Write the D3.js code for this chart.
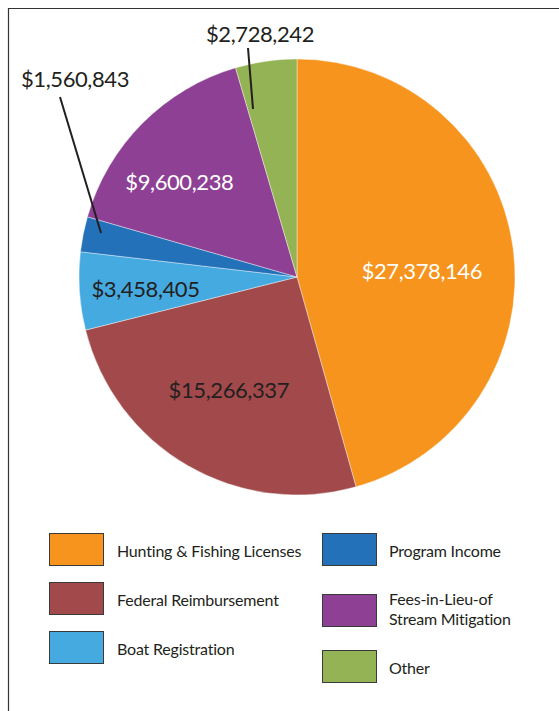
<!DOCTYPE html>
<html>
<head>
<meta charset="utf-8">
<script src="https://cdn.jsdelivr.net/npm/d3@7"></script>
<style>
  body { margin: 0; background: #fff; }
  svg { display: block; font-family: Lato, "Open Sans", sans-serif; }
</style>
</head>
<body>
<div id="chart"></div>
<script>
"use strict";

// revenue sources, clockwise from 12 o'clock
var categories = ["Hunting & Fishing Licenses", "Federal Reimbursement", "Boat Registration",
                  "Program Income", "Fees-in-Lieu-of Stream Mitigation", "Other"];
var amounts = [27378146, 15266337, 3458405, 1560843, 9600238, 2728242];
var sliceColors = ["#f7941e", "#a24a4b", "#45aae0", "#2371b9", "#8e4194", "#94b354"];

// legend layout: column, text lines
var legendCols = [0, 0, 0, 1, 1, 1];
var legendLines = [["Hunting & Fishing Licenses"], ["Federal Reimbursement"], ["Boat Registration"],
                   ["Program Income"], ["Fees-in-Lieu-of", "Stream Mitigation"], ["Other"]];

var width = 559,
    height = 711,
    cx = 297, cy = 277,
    radius = 218,
    ink = "#231f20";

var svg = d3.select("#chart").append("svg")
    .attr("width", width)
    .attr("height", height);

// frame (open on right and bottom)
svg.append("path")
    .attr("d", "M8.5," + height + "V8.5H" + width)
    .attr("fill", "none")
    .attr("stroke", "#333")
    .attr("stroke-width", 1.2);

var data = categories.map(function(c, i) { return { name: c, value: amounts[i], color: sliceColors[i] }; });

var pie = d3.pie().sort(null).value(function(d) { return d.value; });
var arcs = pie(data);

var arc = d3.arc().innerRadius(0).outerRadius(radius);

var g = svg.append("g").attr("transform", "translate(" + cx + "," + cy + ")");

g.selectAll("path.slice")
    .data(arcs)
  .enter().append("path")
    .attr("class", "slice")
    .attr("d", arc)
    .attr("fill", function(d) { return d.data.color; })
    .attr("stroke", "#fff")
    .attr("stroke-width", 0.4);

var fmt = function(v) { return "$" + d3.format(",")(v); };

// inside labels: radius + angle nudge (degrees)
var inside = {
  0: { r: 125, da: 5, fill: "#fff" },
  1: { r: 132, da: 1, fill: ink },
  2: { r: 152, da: -1, fill: ink },
  4: { r: 151, da: -6, fill: "#fff" }
};

function polar(a, r) { return [Math.sin(a) * r, -Math.cos(a) * r]; }

arcs.forEach(function(d, i) {
  var mid = (d.startAngle + d.endAngle) / 2;
  if (inside[i]) {
    var p = polar(mid + inside[i].da * Math.PI / 180, inside[i].r);
    g.append("text")
        .attr("x", p[0]).attr("y", p[1])
        .attr("dy", "0.36em")
        .attr("text-anchor", "middle")
        .attr("font-size", 22)
        .attr("letter-spacing", -0.4)
        .attr("fill", inside[i].fill)
        .text(fmt(d.data.value));
  }
});

// outside labels with leader lines
var outside = {
  3: { inner: [-196, -44], outer: [-237, -180], label: [-222, -190] },
  5: { inner: [-44, -168], outer: [-49, -229], label: [-37, -235] }
};

Object.keys(outside).forEach(function(k) {
  var o = outside[k], d = arcs[k];
  g.append("line")
      .attr("x1", o.inner[0]).attr("y1", o.inner[1])
      .attr("x2", o.outer[0]).attr("y2", o.outer[1])
      .attr("stroke", ink)
      .attr("stroke-width", 2);
  g.append("text")
      .attr("x", o.label[0]).attr("y", o.label[1])
      .attr("text-anchor", "middle")
      .attr("font-size", 22)
      .attr("letter-spacing", -0.4)
      .attr("fill", ink)
      .text(fmt(d.data.value));
});

// legend
var colX = [49, 322], textX = [117, 389];
var rowTop = { 0: 533, 1: 582, 2: 631, 3: 533, 4: 594, 5: 650 };

var leg = svg.append("g").attr("class", "legend");
data.forEach(function(d, i) {
  var c = legendCols[i], top = rowTop[i];
  leg.append("rect")
      .attr("x", colX[c] + 0.5).attr("y", top + 0.5)
      .attr("width", 54).attr("height", 32)
      .attr("fill", d.color)
      .attr("stroke", "#3a3a3a")
      .attr("stroke-width", 1);
  var lines = legendLines[i];
  var base = top + 16 + (lines.length > 1 ? 5 : 7.5);
  var t = leg.append("text")
      .attr("x", textX[c])
      .attr("font-size", 16)
      .attr("letter-spacing", -0.2)
      .attr("fill", ink);
  lines.forEach(function(line, j) {
    t.append("tspan")
        .attr("x", textX[c])
        .attr("y", base + (j - (lines.length - 1) / 2) * 20)
        .text(line);
  });
});
</script>
</body>
</html>
